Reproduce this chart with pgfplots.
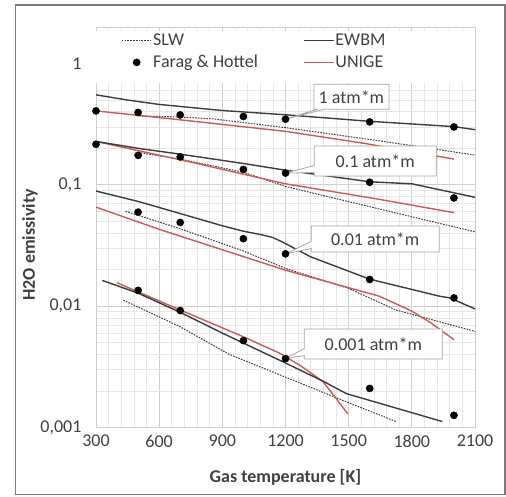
\documentclass[border=0pt]{standalone}
\usepackage{fontspec}
\setmainfont{Carlito}
\usepackage{pgfplots}
\pgfplotsset{compat=1.18}
\usetikzlibrary{shapes.callouts}
\definecolor{ew}{HTML}{3C3C3C}
\definecolor{ug}{HTML}{CC5A56}
\definecolor{txt}{HTML}{404040}
\definecolor{gmaj}{HTML}{CFCFCF}
\definecolor{gmin}{HTML}{E6E6E6}
\definecolor{frm}{HTML}{7A7A7A}
\definecolor{callb}{HTML}{A5A5A5}
\begin{document}
\begin{tikzpicture}[font=\fontsize{18}{21}\selectfont]
\useasboundingbox (0,0) rectangle (506pt,496pt);
\draw[frm, line width=1.5pt] (15.5pt,1.5pt) rectangle (505pt,491pt);
\begin{axis}[
  at={(96pt,68.5pt)}, anchor=south west,
  scale only axis, width=379pt, height=400.5pt,
  xmin=300, xmax=2100, ymode=log, ymin=0.001, ymax=2,
  xtick={300,600,...,2100}, xticklabels={300,600,900,1200,1500,1800,2100},
  minor x tick num=4,
  ytick={0.001,0.01,0.1,1}, yticklabels={{0,001},{0,01},{0,1},1},
  minor ytick={0.002,0.003,0.004,0.005,0.006,0.007,0.008,0.009,0.02,0.03,0.04,0.05,0.06,0.07,0.08,0.09,0.2,0.3,0.4,0.5,0.6,0.7,0.8,0.9,2},
  grid=both, major grid style={gmaj, line width=0.9pt}, minor grid style={gmin, line width=0.7pt},
  major tick length=0pt, minor tick length=0pt,
  axis line style={gmaj},
  tick label style={text=txt},
  xticklabel style={yshift=-4pt},
  yticklabel style={xshift=-11pt},
  xlabel={Gas temperature [K]}, ylabel={H2O emissivity},
  xlabel style={at={(axis description cs:0.5,-0.1236)}, anchor=center, text=txt, font=\fontsize{18}{21}\selectfont\bfseries},
  ylabel style={at={(axis description cs:-0.174,0.456)}, anchor=center, text=txt, font=\fontsize{18}{21}\selectfont\bfseries},
  legend columns=2,
  legend cell align=left,
  legend image code/.code={\draw[mark repeat=2,mark phase=2,#1] plot coordinates {(0pt,0pt) (15pt,0pt) (30pt,0pt)};},
  legend style={at={(rel axis cs:0.066,0.985)}, anchor=north west, draw=none, fill=none, inner sep=0pt, row sep=6pt,
    nodes={inner sep=1pt, text=txt}, /tikz/every even column/.append style={column sep=44pt}},
  slw/.style={ew, line width=1pt, dash pattern=on 1.6pt off 1.2pt},
  ewbm/.style={ew, line width=1.4pt},
  unige/.style={ug, line width=1.4pt},
  farag/.style={only marks, mark=*, mark size=3.6pt, mark options={fill=black, draw=black}, black},
]
\fill[white] (rel axis cs:0,0.860) rectangle (rel axis cs:1,0.99);
\addlegendimage{slw}\addlegendentry{SLW}
\addlegendimage{ewbm}\addlegendentry{EWBM}
\addlegendimage{farag}\addlegendentry{Farag \& Hottel}
\addlegendimage{unige}\addlegendentry{UNIGE}

% 1 atm*m
\addplot[slw, forget plot] coordinates {(505,0.370) (700,0.362) (855,0.350) (1000,0.326) (1200,0.296) (1650,0.230) (2100,0.176)};
\addplot[unige, forget plot] coordinates {(300,0.407) (745,0.337) (1200,0.276) (1580,0.219) (2000,0.163)};
\addplot[ewbm, forget plot] coordinates {(300,0.552) (450,0.500) (600,0.460) (900,0.410) (1200,0.378) (1600,0.334) (2000,0.302) (2100,0.285)};
% 0.1 atm*m
\addplot[slw, forget plot] coordinates {(500,0.185) (700,0.163) (1000,0.127) (1200,0.097) (1650,0.063) (2100,0.041)};
\addplot[unige, forget plot] coordinates {(300,0.228) (750,0.154) (1200,0.102) (1645,0.076) (2000,0.059)};
\addplot[ewbm, forget plot] coordinates {(300,0.228) (500,0.200) (700,0.179) (1000,0.150) (1200,0.132) (1600,0.106) (1800,0.102) (2000,0.086) (2100,0.079)};
% 0.01 atm*m
\addplot[slw, forget plot] coordinates {(440,0.0605) (700,0.0435) (1000,0.0285) (1200,0.0205) (1500,0.0140) (1725,0.0093) (2100,0.0062)};
\addplot[unige, forget plot] coordinates {(300,0.0655) (600,0.043) (1200,0.0198) (1450,0.0150) (1645,0.0121) (1800,0.0091) (1890,0.0073) (2000,0.0053)};
\addplot[ewbm, forget plot] coordinates {(300,0.089) (500,0.073) (700,0.058) (900,0.046) (1000,0.0415) (1080,0.0390) (1140,0.0368) (1190,0.0335) (1250,0.0295) (1320,0.0255) (1600,0.0167) (1930,0.0121) (1980,0.0117) (2100,0.0095)};
% 0.001 atm*m
\addplot[slw, forget plot] coordinates {(430,0.0112) (697,0.0068) (934,0.0040) (1200,0.0026) (1500,0.0016) (1725,0.00112)};
\addplot[unige, forget plot] coordinates {(400,0.0156) (700,0.0093) (1000,0.0056) (1172,0.0041) (1275,0.0032) (1377,0.0024) (1440,0.00174) (1495,0.0013)};
\addplot[ewbm, forget plot] coordinates {(330,0.0163) (500,0.0128) (700,0.0089) (900,0.0060) (1200,0.0034) (1380,0.0024) (1490,0.0019) (1945,0.00112)};

% callouts
\node[rectangle callout, draw=callb, fill=white, line width=0.8pt, text=txt, inner sep=1pt, callout pointer width=7pt,
  minimum width=75pt, minimum height=25pt, callout absolute pointer={(axis cs:1200,0.348)}] at (axis cs:1513,0.533) {1 atm*m};
\node[rectangle callout, draw=callb, fill=white, line width=0.8pt, text=txt, inner sep=1pt, callout pointer width=7pt,
  minimum width=122pt, minimum height=30pt, callout absolute pointer={(axis cs:1200,0.125)}] at (axis cs:1626,0.157) {0.1 atm*m};
\node[rectangle callout, draw=callb, fill=white, line width=0.8pt, text=txt, inner sep=1pt, callout pointer width=7pt,
  minimum width=128pt, minimum height=26pt, callout absolute pointer={(axis cs:1200,0.027)}] at (axis cs:1626,0.0358) {0.01 atm*m};
\node[rectangle callout, draw=callb, fill=white, line width=0.8pt, text=txt, inner sep=1pt, callout pointer width=7pt,
  minimum width=138pt, minimum height=30pt, callout absolute pointer={(axis cs:1200,0.0037)}] at (axis cs:1617,0.00487) {0.001 atm*m};

% Farag & Hottel
\addplot[farag, forget plot] coordinates {(300,0.407) (500,0.395) (700,0.377) (1000,0.366) (1200,0.348) (1600,0.330) (2000,0.300)};
\addplot[farag, forget plot] coordinates {(300,0.216) (500,0.175) (700,0.170) (1000,0.134) (1200,0.125) (1600,0.105) (2000,0.078)};
\addplot[farag, forget plot] coordinates {(500,0.0596) (700,0.049) (1000,0.036) (1200,0.027) (1600,0.0166) (2000,0.0117)};
\addplot[farag, forget plot] coordinates {(500,0.0135) (700,0.0092) (1000,0.0052) (1200,0.0037) (1600,0.0021) (2000,0.00126)};
\end{axis}
\end{tikzpicture}
\end{document}
